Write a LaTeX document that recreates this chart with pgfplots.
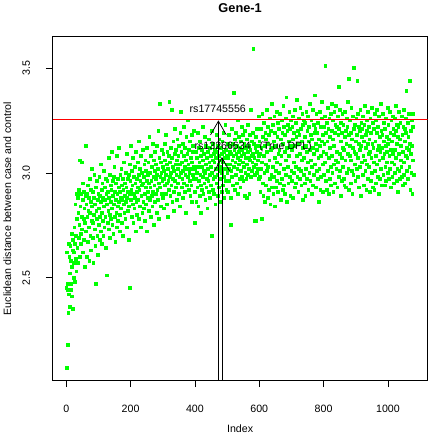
\documentclass[border=0pt]{standalone}
\usepackage{fontspec}
\setmainfont{Liberation Sans}
\usepackage{pgfplots}
\pgfplotsset{compat=1.18}
\usetikzlibrary{arrows.meta}
\definecolor{Rgreen}{RGB}{0,255,0}
\definecolor{Rred}{RGB}{255,0,0}
\begin{document}
\fontsize{10.8bp}{13bp}\selectfont
\begin{tikzpicture}
\begin{axis}[
 scale only axis, width=381bp, height=349.4bp,
 xmin=-42.16, xmax=1123.16, ymin=2.01, ymax=3.651,
 axis line style={line width=0.75bp},
 tick style={black, line width=0.75bp},
 tick align=outside, major tick length=7bp,
 tick pos=left,
 xtick={0,200,400,600,800,1000}, ytick={2.5,3,3.5},
 xticklabels={0,200,400,600,800,1000},
 yticklabels={2.5,3.0,3.5},
 /pgf/number format/assume math mode=true,
 xticklabel style={anchor=north, inner sep=0pt}, xticklabel shift=18bp,
 yticklabel style={rotate=90, anchor=south, inner sep=0pt}, yticklabel shift=16bp,
 xlabel={Index}, ylabel={Euclidean distance between case and control},
 xlabel style={at={(axis description cs:0.5,-0.1402)}, anchor=center},
 ylabel style={at={(axis description cs:-0.1207,0.5)}, anchor=center},
 title={\textbf{Gene-1}},
 title style={at={(axis description cs:0.5,1.0658)}, anchor=center, font=\fontsize{13bp}{15bp}\selectfont},
 clip=true, clip marker paths=true,
]
\addplot[only marks, color=Rgreen, mark=square*, mark size=1.4bp, mark options={draw=Rgreen, fill=Rgreen, line width=0pt}]
 table[x expr=\coordindex+1, y=y, row sep=\\] {
y\\
2.45\\ 2.07\\ 2.62\\ 2.44\\ 2.18\\ 2.47\\ 2.33\\ 2.66\\ 2.42\\ 2.60\\ 2.36\\ 2.52\\ 2.65\\ 2.44\\ 2.58\\ 2.47\\ 2.71\\ 2.55\\ 2.41\\ 2.63\\
2.35\\ 2.68\\ 2.50\\ 2.62\\ 2.57\\ 2.74\\ 2.48\\ 2.66\\ 2.85\\ 2.59\\ 2.70\\ 2.53\\ 2.90\\ 2.78\\ 2.64\\ 2.88\\ 2.57\\ 2.81\\ 2.69\\ 2.92\\
2.75\\ 2.60\\ 3.06\\ 2.84\\ 2.71\\ 2.90\\ 2.66\\ 2.79\\ 3.05\\ 2.73\\ 2.87\\ 2.62\\ 2.95\\ 2.78\\ 2.68\\ 2.91\\ 2.83\\ 2.55\\ 2.76\\ 2.89\\
3.13\\ 2.72\\ 2.85\\ 2.60\\ 2.90\\ 2.79\\ 2.67\\ 2.94\\ 2.82\\ 2.74\\ 2.88\\ 2.58\\ 2.81\\ 2.97\\ 2.70\\ 2.86\\ 2.63\\ 2.92\\ 2.77\\ 3.02\\
2.84\\ 2.69\\ 2.91\\ 2.76\\ 2.57\\ 2.88\\ 2.80\\ 2.99\\ 2.73\\ 2.85\\ 2.65\\ 2.93\\ 2.47\\ 2.82\\ 2.78\\ 2.96\\ 2.70\\ 2.87\\ 2.61\\ 2.90\\
2.83\\ 2.75\\ 2.98\\ 2.68\\ 2.89\\ 2.79\\ 3.04\\ 2.72\\ 2.86\\ 2.92\\ 2.66\\ 2.81\\ 2.95\\ 2.77\\ 2.88\\ 2.70\\ 3.01\\ 2.84\\ 2.74\\ 2.93\\
2.87\\ 2.79\\ 2.97\\ 2.64\\ 2.90\\ 2.51\\ 2.85\\ 2.96\\ 2.76\\ 2.91\\ 2.82\\ 3.07\\ 2.73\\ 2.88\\ 2.99\\ 2.80\\ 2.69\\ 2.94\\ 2.86\\ 2.78\\
2.92\\ 3.10\\ 2.83\\ 2.75\\ 2.96\\ 2.89\\ 2.71\\ 2.98\\ 2.85\\ 3.03\\ 2.79\\ 2.91\\ 2.67\\ 2.87\\ 2.95\\ 2.81\\ 3.08\\ 2.74\\ 2.90\\ 2.84\\
2.97\\ 2.77\\ 2.93\\ 2.86\\ 3.12\\ 2.80\\ 2.91\\ 2.72\\ 2.99\\ 2.88\\ 2.83\\ 3.02\\ 2.76\\ 2.94\\ 2.87\\ 2.97\\ 2.70\\ 2.92\\ 2.85\\ 3.05\\
2.81\\ 2.95\\ 2.89\\ 2.78\\ 3.00\\ 2.86\\ 2.93\\ 2.74\\ 3.09\\ 2.88\\ 2.82\\ 2.97\\ 2.91\\ 2.68\\ 2.99\\ 2.84\\ 3.04\\ 2.45\\ 2.90\\ 2.96\\
2.87\\ 3.13\\ 2.92\\ 2.79\\ 3.01\\ 2.94\\ 2.85\\ 3.07\\ 2.76\\ 2.98\\ 2.90\\ 2.83\\ 3.03\\ 2.88\\ 2.95\\ 2.72\\ 3.10\\ 2.86\\ 2.97\\ 2.91\\
2.80\\ 3.05\\ 2.93\\ 2.87\\ 3.15\\ 2.78\\ 2.99\\ 2.92\\ 3.02\\ 2.84\\ 2.96\\ 2.74\\ 3.08\\ 2.89\\ 2.94\\ 3.00\\ 2.81\\ 2.95\\ 3.11\\ 2.86\\
2.98\\ 2.83\\ 3.04\\ 2.90\\ 2.77\\ 3.06\\ 2.93\\ 2.85\\ 3.01\\ 2.96\\ 2.72\\ 3.12\\ 2.88\\ 2.99\\ 2.91\\ 3.05\\ 2.82\\ 2.95\\ 3.17\\ 2.87\\
3.00\\ 2.93\\ 2.79\\ 3.08\\ 2.96\\ 2.89\\ 3.03\\ 2.84\\ 3.14\\ 2.91\\ 2.98\\ 2.75\\ 3.06\\ 2.94\\ 3.01\\ 2.86\\ 3.10\\ 2.97\\ 2.90\\ 3.04\\
2.81\\ 2.99\\ 3.13\\ 2.92\\ 3.02\\ 2.87\\ 3.20\\ 2.95\\ 2.78\\ 3.07\\ 2.93\\ 3.33\\ 2.98\\ 2.84\\ 3.05\\ 3.00\\ 2.90\\ 3.11\\ 2.96\\ 3.03\\
2.88\\ 3.09\\ 2.97\\ 3.01\\ 2.83\\ 3.14\\ 2.94\\ 3.06\\ 2.90\\ 3.18\\ 2.99\\ 2.85\\ 3.04\\ 2.95\\ 3.10\\ 2.79\\ 3.02\\ 2.96\\ 3.08\\ 2.92\\
3.34\\ 2.98\\ 3.05\\ 2.89\\ 3.12\\ 3.00\\ 2.94\\ 3.30\\ 3.07\\ 2.86\\ 3.03\\ 2.97\\ 3.15\\ 2.91\\ 3.01\\ 2.82\\ 3.09\\ 2.96\\ 3.21\\ 3.04\\
2.93\\ 3.11\\ 2.99\\ 3.06\\ 2.87\\ 3.16\\ 3.02\\ 2.95\\ 3.08\\ 2.90\\ 3.13\\ 2.98\\ 3.04\\ 2.84\\ 3.19\\ 3.29\\ 3.00\\ 3.10\\ 2.93\\ 3.05\\
2.97\\ 3.14\\ 3.01\\ 2.88\\ 3.08\\ 2.95\\ 3.22\\ 3.03\\ 2.91\\ 3.12\\ 2.99\\ 3.06\\ 2.81\\ 3.17\\ 3.02\\ 2.94\\ 3.09\\ 2.98\\ 3.25\\ 3.04\\
2.92\\ 3.11\\ 3.00\\ 2.96\\ 3.15\\ 2.89\\ 3.07\\ 3.02\\ 2.94\\ 3.18\\ 3.05\\ 2.86\\ 3.10\\ 2.99\\ 3.13\\ 2.97\\ 3.03\\ 3.20\\ 2.91\\ 2.76\\
3.02\\ 2.91\\ 3.10\\ 2.97\\ 2.86\\ 3.07\\ 3.00\\ 2.93\\ 3.19\\ 3.03\\ 2.84\\ 3.12\\ 2.96\\ 3.05\\ 2.89\\ 3.15\\ 2.99\\ 2.94\\ 3.08\\ 2.81\\
3.03\\ 3.11\\ 2.92\\ 3.06\\ 2.98\\ 3.22\\ 2.90\\ 3.01\\ 3.09\\ 2.95\\ 3.17\\ 3.00\\ 2.87\\ 3.13\\ 3.04\\ 2.93\\ 3.07\\ 2.97\\ 2.83\\ 3.10\\
3.02\\ 2.96\\ 3.16\\ 2.91\\ 3.05\\ 2.99\\ 3.12\\ 2.88\\ 3.08\\ 2.94\\ 3.03\\ 3.20\\ 2.70\\ 3.00\\ 3.06\\ 2.92\\ 3.14\\ 2.97\\ 3.09\\ 2.90\\
3.05\\ 3.11\\ 2.98\\ 2.85\\ 3.07\\ 3.02\\ 3.18\\ 2.95\\ 3.10\\ 2.99\\ 2.89\\ 3.13\\ 3.04\\ 3.08\\ 2.93\\ 3.16\\ 3.01\\ 2.86\\ 3.06\\ 2.97\\
3.12\\ 3.03\\ 2.91\\ 3.09\\ 3.00\\ 3.15\\ 2.94\\ 3.05\\ 3.19\\ 2.98\\ 3.10\\ 2.88\\ 3.07\\ 3.02\\ 3.23\\ 2.96\\ 3.11\\ 2.92\\ 3.04\\ 3.08\\
3.00\\ 3.14\\ 2.91\\ 3.07\\ 3.02\\ 3.18\\ 2.96\\ 3.10\\ 3.04\\ 3.13\\ 2.88\\ 2.75\\ 3.09\\ 3.01\\ 3.21\\ 2.98\\ 3.06\\ 3.14\\ 2.94\\ 3.08\\
3.38\\ 3.03\\ 3.11\\ 2.92\\ 3.16\\ 3.05\\ 2.99\\ 3.19\\ 3.09\\ 2.95\\ 3.13\\ 3.02\\ 3.07\\ 3.25\\ 2.90\\ 3.10\\ 3.04\\ 3.17\\ 2.97\\ 3.12\\
3.06\\ 2.93\\ 3.15\\ 3.01\\ 3.08\\ 3.22\\ 2.98\\ 3.11\\ 3.05\\ 3.18\\ 2.96\\ 3.09\\ 3.03\\ 3.14\\ 2.89\\ 3.20\\ 3.00\\ 3.07\\ 3.12\\ 2.97\\
2.88\\ 3.16\\ 3.04\\ 3.10\\ 2.99\\ 3.23\\ 3.07\\ 3.02\\ 3.13\\ 2.90\\ 3.18\\ 3.06\\ 3.11\\ 2.98\\ 3.30\\ 3.08\\ 3.01\\ 3.15\\ 3.05\\ 3.19\\
3.09\\ 3.59\\ 3.03\\ 3.14\\ 3.07\\ 2.99\\ 2.77\\ 3.12\\ 2.77\\ 3.17\\ 3.04\\ 3.10\\ 3.00\\ 3.21\\ 3.06\\ 3.13\\ 3.02\\ 3.27\\ 3.08\\ 2.97\\
3.15\\ 2.98\\ 3.09\\ 2.91\\ 3.21\\ 3.02\\ 3.12\\ 2.78\\ 3.05\\ 3.28\\ 2.95\\ 3.17\\ 2.89\\ 3.08\\ 3.24\\ 3.00\\ 3.13\\ 2.86\\ 3.19\\ 3.04\\
2.94\\ 3.16\\ 3.01\\ 3.30\\ 3.10\\ 2.88\\ 3.22\\ 3.03\\ 3.14\\ 2.92\\ 3.18\\ 3.06\\ 2.97\\ 3.26\\ 2.85\\ 3.11\\ 3.20\\ 2.99\\ 3.33\\ 2.93\\
3.12\\ 3.03\\ 3.23\\ 2.90\\ 3.15\\ 2.98\\ 3.27\\ 3.07\\ 2.84\\ 3.19\\ 3.01\\ 3.13\\ 2.93\\ 3.29\\ 3.05\\ 2.96\\ 3.17\\ 3.24\\ 2.91\\ 3.09\\
3.00\\ 3.21\\ 3.11\\ 2.95\\ 3.28\\ 3.04\\ 2.87\\ 3.16\\ 3.08\\ 3.25\\ 2.97\\ 3.19\\ 2.92\\ 3.14\\ 3.32\\ 3.02\\ 3.22\\ 2.94\\ 3.10\\ 3.18\\
2.90\\ 3.26\\ 3.06\\ 2.99\\ 3.36\\ 3.12\\ 2.86\\ 3.20\\ 3.03\\ 3.23\\ 2.95\\ 3.15\\ 3.08\\ 3.29\\ 2.98\\ 3.21\\ 2.89\\ 3.13\\ 3.25\\ 3.01\\
3.11\\ 2.96\\ 3.22\\ 3.16\\ 2.88\\ 3.27\\ 3.05\\ 3.00\\ 3.19\\ 2.93\\ 3.13\\ 3.30\\ 3.03\\ 3.24\\ 2.95\\ 3.17\\ 3.08\\ 3.35\\ 2.98\\ 3.20\\
3.14\\ 2.91\\ 3.26\\ 3.02\\ 3.18\\ 2.97\\ 3.09\\ 3.31\\ 3.01\\ 3.21\\ 2.94\\ 3.15\\ 3.06\\ 3.28\\ 2.87\\ 3.12\\ 3.23\\ 2.99\\ 3.25\\ 3.07\\
3.17\\ 2.95\\ 3.24\\ 2.89\\ 3.13\\ 3.02\\ 3.29\\ 3.10\\ 2.97\\ 3.20\\ 3.05\\ 3.27\\ 2.92\\ 3.15\\ 3.22\\ 3.00\\ 3.33\\ 3.11\\ 2.96\\ 3.18\\
3.06\\ 3.25\\ 2.90\\ 3.16\\ 3.03\\ 3.30\\ 3.12\\ 2.94\\ 3.23\\ 3.09\\ 2.99\\ 3.19\\ 3.37\\ 3.04\\ 3.21\\ 2.93\\ 3.14\\ 3.28\\ 3.01\\ 3.11\\
3.19\\ 2.97\\ 3.24\\ 3.07\\ 2.86\\ 3.16\\ 3.02\\ 3.29\\ 3.13\\ 2.92\\ 3.22\\ 3.08\\ 2.98\\ 3.26\\ 3.15\\ 3.34\\ 3.04\\ 3.18\\ 2.91\\ 3.10\\
3.22\\ 2.99\\ 3.14\\ 3.27\\ 3.05\\ 3.51\\ 2.96\\ 3.19\\ 3.09\\ 3.24\\ 2.92\\ 3.15\\ 3.31\\ 3.01\\ 3.21\\ 3.07\\ 2.90\\ 3.26\\ 3.12\\ 2.97\\
3.17\\ 3.03\\ 3.28\\ 2.94\\ 3.20\\ 3.08\\ 3.33\\ 3.00\\ 3.16\\ 3.25\\ 2.91\\ 3.13\\ 3.04\\ 3.29\\ 3.19\\ 2.95\\ 3.23\\ 3.06\\ 3.32\\ 3.02\\
3.10\\ 3.22\\ 2.93\\ 3.27\\ 3.05\\ 3.18\\ 3.41\\ 2.98\\ 3.21\\ 3.09\\ 3.30\\ 3.01\\ 3.15\\ 2.89\\ 3.24\\ 3.07\\ 3.19\\ 2.96\\ 3.28\\ 3.12\\
3.03\\ 3.23\\ 3.11\\ 2.97\\ 2.94\\ 3.17\\ 3.29\\ 3.06\\ 3.20\\ 2.93\\ 3.14\\ 3.26\\ 3.00\\ 3.22\\ 3.09\\ 3.34\\ 3.02\\ 3.18\\ 2.92\\ 3.45\\
3.08\\ 3.25\\ 3.13\\ 2.95\\ 3.19\\ 3.06\\ 3.31\\ 3.01\\ 3.16\\ 2.90\\ 3.12\\ 3.27\\ 2.99\\ 3.21\\ 3.50\\ 3.10\\ 3.04\\ 3.23\\ 2.96\\ 3.15\\
3.09\\ 3.26\\ 3.02\\ 3.18\\ 3.44\\ 3.07\\ 3.28\\ 2.98\\ 3.14\\ 3.22\\ 2.93\\ 3.11\\ 3.20\\ 3.03\\ 3.30\\ 3.13\\ 2.89\\ 3.24\\ 3.05\\ 3.17\\
3.21\\ 2.99\\ 3.27\\ 3.08\\ 3.15\\ 2.94\\ 3.23\\ 3.06\\ 3.32\\ 3.01\\ 3.18\\ 3.12\\ 2.92\\ 3.25\\ 3.04\\ 3.20\\ 2.97\\ 3.14\\ 3.29\\ 3.09\\
3.03\\ 3.22\\ 3.16\\ 2.91\\ 3.10\\ 3.26\\ 2.96\\ 3.19\\ 3.07\\ 3.31\\ 3.00\\ 3.14\\ 3.24\\ 2.93\\ 3.12\\ 3.21\\ 3.05\\ 2.92\\ 3.28\\ 3.01\\
3.15\\ 3.08\\ 3.25\\ 2.95\\ 3.19\\ 3.04\\ 3.30\\ 3.11\\ 2.98\\ 3.22\\ 2.90\\ 3.13\\ 3.27\\ 3.06\\ 3.17\\ 2.97\\ 3.10\\ 3.33\\ 3.02\\ 3.20\\
3.12\\ 2.94\\ 3.18\\ 3.07\\ 3.28\\ 2.99\\ 3.15\\ 3.24\\ 3.09\\ 2.94\\ 3.21\\ 3.03\\ 3.13\\ 2.96\\ 3.26\\ 3.10\\ 3.17\\ 3.05\\ 3.31\\ 3.00\\
3.14\\ 3.23\\ 2.97\\ 3.16\\ 3.08\\ 3.29\\ 3.02\\ 3.19\\ 2.93\\ 3.11\\ 3.25\\ 3.05\\ 3.15\\ 2.98\\ 3.27\\ 3.09\\ 3.21\\ 2.95\\ 3.18\\ 3.04\\
3.26\\ 3.11\\ 3.00\\ 3.20\\ 3.07\\ 3.32\\ 2.96\\ 3.14\\ 3.23\\ 3.02\\ 3.17\\ 2.91\\ 3.22\\ 3.09\\ 3.29\\ 3.01\\ 3.16\\ 2.97\\ 3.24\\ 3.06\\
3.13\\ 3.03\\ 3.27\\ 2.98\\ 3.18\\ 3.10\\ 2.94\\ 3.22\\ 3.05\\ 3.30\\ 2.99\\ 3.15\\ 3.21\\ 2.95\\ 3.26\\ 3.08\\ 3.19\\ 3.39\\ 3.01\\ 3.12\\
3.07\\ 3.24\\ 2.97\\ 3.17\\ 3.11\\ 3.28\\ 3.03\\ 3.44\\ 3.14\\ 2.92\\ 3.20\\ 3.09\\ 3.00\\ 3.25\\ 3.13\\ 2.90\\ 3.22\\ 3.06\\ 3.28\\ 2.99\\
};
\draw[color=Rred, line width=0.9bp] (axis cs:-42.16,3.256) -- (axis cs:1123.16,3.256);
\addplot[draw=black, line width=0.75bp, -{Straight Barb[length=14bp,width=16bp]}] coordinates {(473,2.0) (473,3.251)};
\addplot[draw=black, line width=0.75bp, -{Straight Barb[length=14bp,width=16bp]}] coordinates {(484,2.0) (484,3.076)};
\node[anchor=center] at (axis cs:471,3.304) {rs17745556};
\node[anchor=center] at (axis cs:581,3.126) {rs13266634\hspace{9bp}(True DPL)};
\end{axis}
\path ([shift={(-53.3bp,-53.3bp)}]current axis.south west) rectangle ([shift={(1.7bp,33.3bp)}]current axis.north east);
\end{tikzpicture}
\end{document}
